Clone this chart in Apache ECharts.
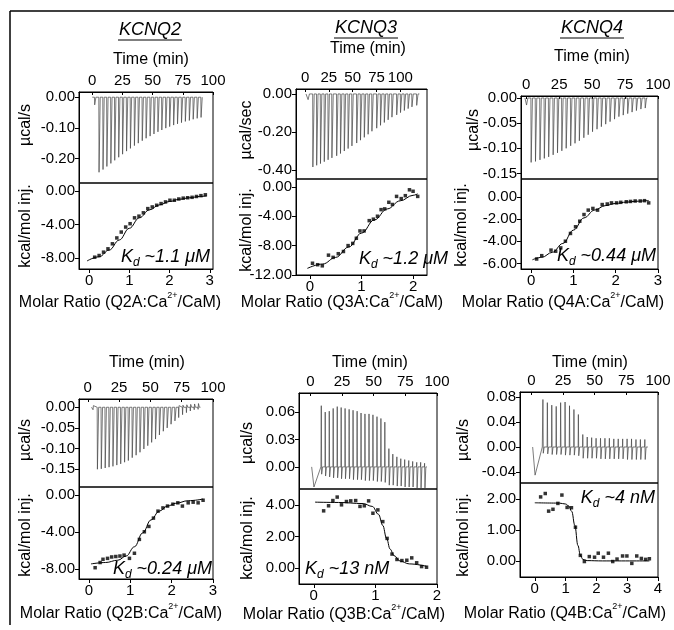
<!DOCTYPE html>
<html>
<head>
<meta charset="utf-8">
<title>ITC KCNQ / CaM</title>
<script src="https://cdn.jsdelivr.net/npm/echarts@6/dist/echarts.min.js"></script>
<style>
  html, body { margin: 0; padding: 0; background: #fff; }
  #itc { width: 674px; height: 630px; }
</style>
</head>
<body>
<div id="itc"></div>
<script>
// ---- tick labels ----
const timeTicks = [0, 25, 50, 75, 100]
const q2aPowerTicks = [0, -0.1, -0.2]
const q3aPowerTicks = [0, -0.2, -0.4]
const q4aPowerTicks = [0, -0.05, -0.1, -0.15]
const q2bPowerTicks = [0, -0.05, -0.1, -0.15]
const q3bPowerTicks = [0.06, 0.03, 0]
const q4bPowerTicks = [0.08, 0.04, 0, -0.04]
const q2aHeatTicks = [0, -4, -8]
const q3aHeatTicks = [0, -4, -8, -12]
const q4aHeatTicks = [0, -2, -4, -6]
const q2bHeatTicks = [0, -4, -8]
const q3bHeatTicks = [4, 2, 0]
const q4bHeatTicks = [2, 1, 0]
const ratioTicks3 = [0, 1, 2, 3]
const ratioTicks2 = [0, 1, 2]
const ratioTicks4 = [0, 1, 2, 3, 4]

// ---- raw thermograms: injection time (min), peak (ucal/s), rebound ----
const q2aInjTime = [1.8, 5.4, 8.7, 11.9, 15.2, 18.4, 21.7, 24.9, 28.2, 31.4, 34.7, 37.9, 41.2, 44.4, 47.7, 50.9, 54.2, 57.4, 60.7, 63.9, 67.2, 70.4, 73.7, 76.9, 80.2, 83.4, 86.7, 89.9]
const q2aInjPeak = [-0.025, -0.245, -0.236, -0.226, -0.216, -0.206, -0.196, -0.186, -0.176, -0.167, -0.158, -0.150, -0.142, -0.134, -0.127, -0.120, -0.113, -0.107, -0.101, -0.096, -0.091, -0.087, -0.083, -0.079, -0.076, -0.072, -0.069, -0.066]

const q3aInjTime = [3, 8, 12, 16, 20, 24, 28, 33, 37, 41, 45, 49, 54, 58, 62, 66, 70, 75, 79, 83, 87, 91, 96, 100, 104, 108, 112, 117]
const q3aInjPeak = [-0.030, -0.384, -0.375, -0.366, -0.356, -0.346, -0.336, -0.325, -0.313, -0.300, -0.287, -0.273, -0.258, -0.243, -0.228, -0.212, -0.196, -0.180, -0.165, -0.150, -0.136, -0.122, -0.110, -0.098, -0.087, -0.077, -0.068, -0.060]

const q4aInjTime = [0, 3.5, 6.8, 10.2, 13.5, 16.8, 20.2, 23.5, 26.8, 30.1, 33.5, 36.8, 40.1, 43.5, 46.8, 50.1, 53.5, 56.8, 60.1, 63.4, 66.8, 70.1, 73.4, 76.8, 80.1, 83.4, 86.8, 90.1]
const q4aInjPeak = [-0.014, -0.128, -0.126, -0.123, -0.120, -0.117, -0.113, -0.109, -0.105, -0.100, -0.095, -0.090, -0.085, -0.079, -0.073, -0.067, -0.062, -0.057, -0.052, -0.047, -0.042, -0.037, -0.034, -0.031, -0.028, -0.025, -0.022, -0.020]

const q2bInjTime = [4, 7.5, 10.6, 13.7, 16.8, 19.9, 23, 26.1, 29.2, 32.2, 35.3, 38.4, 41.5, 44.6, 47.7, 50.8, 53.9, 57, 60.1, 63.2, 66.3, 69.4, 72.4, 75.5, 78.6, 81.7, 84.8, 87.9]
const q2bInjPeak = [-0.006, -0.150, -0.149, -0.147, -0.145, -0.143, -0.140, -0.137, -0.133, -0.129, -0.122, -0.116, -0.109, -0.101, -0.093, -0.085, -0.077, -0.067, -0.058, -0.050, -0.041, -0.033, -0.025, -0.018, -0.013, -0.009, -0.006, -0.005]
const q2bRebound = [0.004, 0, 0, 0, 0, 0, 0, 0, 0, 0, 0, 0, 0, 0, 0, 0, 0, 0, 0, 0, 0, 0, 0.004, 0.005, 0.006, 0.007, 0.008, 0.009]

const q3bLeadTime = [1, 2.8, 8.3]
const q3bLeadValue = [0, -0.022, 0]
const q3bInjTime = [8.4, 11.5, 14.7, 17.8, 21.0, 24.1, 27.2, 30.4, 33.5, 36.7, 39.8, 42.9, 46.1, 49.2, 52.4, 55.5, 58.6, 61.8, 64.9, 68.1, 71.2, 74.3, 77.5, 80.6, 83.8, 86.9, 90.0]
const q3bInjPeak = [0.067, 0.060, 0.061, 0.064, 0.066, 0.065, 0.064, 0.063, 0.062, 0.061, 0.059, 0.058, 0.058, 0.057, 0.055, 0.053, 0.049, 0.020, 0.014, 0.011, 0.009, 0.008, 0.007, 0.006, 0.005, 0.005, 0.004]
const q3bRebound = [-0.008, -0.010, -0.011, -0.012, -0.012, -0.013, -0.013, -0.013, -0.014, -0.014, -0.014, -0.015, -0.015, -0.015, -0.016, -0.016, -0.017, -0.020, -0.020, -0.021, -0.021, -0.022, -0.022, -0.022, -0.023, -0.023, -0.023]

const q4bLeadTime = [1, 2.9, 8.6]
const q4bLeadValue = [0, -0.045, 0]
const q4bInjTime = [8.9, 12.4, 15.9, 19.4, 22.9, 26.4, 29.9, 33.4, 36.9, 40.4, 43.9, 47.4, 50.9, 54.4, 57.9, 61.4, 64.9, 68.4, 71.9, 75.4, 78.9, 82.4, 85.9, 89.4]
const q4bInjPeak = [0.076, 0.071, 0.067, 0.065, 0.071, 0.072, 0.066, 0.060, 0.052, 0.020, 0.016, 0.015, 0.014, 0.014, 0.014, 0.014, 0.013, 0.013, 0.013, 0.013, 0.013, 0.012, 0.012, 0.012]
const q4bRebound = [-0.010, -0.011, -0.012, -0.012, -0.012, -0.013, -0.013, -0.013, -0.014, -0.018, -0.018, -0.018, -0.018, -0.019, -0.019, -0.019, -0.019, -0.019, -0.019, -0.020, -0.020, -0.020, -0.020, -0.020]

// ---- integrated heats (kcal/mol injectant) vs molar ratio ----
const q2aRatio = [0.14, 0.25, 0.36, 0.47, 0.58, 0.69, 0.80, 0.91, 1.02, 1.13, 1.24, 1.35, 1.46, 1.57, 1.68, 1.79, 1.90, 2.01, 2.12, 2.23, 2.34, 2.45, 2.56, 2.67, 2.78, 2.89]
const q2aHeat = [-7.9, -7.7, -7.3, -6.9, -6.3, -5.6, -4.9, -4.3, -3.9, -3.2, -3.0, -2.6, -2.1, -1.9, -1.7, -1.5, -1.3, -1.1, -1.1, -0.95, -0.85, -0.8, -0.75, -0.65, -0.55, -0.45]
const q2aFitRatio = [-0.05, 0.25, 0.5, 0.75, 1.0, 1.25, 1.5, 1.75, 2.0, 2.25, 2.5, 2.75, 2.92]
const q2aFitHeat = [-8.35, -7.85, -7.05, -5.85, -4.45, -3.2, -2.25, -1.65, -1.25, -0.98, -0.8, -0.65, -0.57]

const q3aRatio = [0.05, 0.15, 0.24, 0.36, 0.45, 0.55, 0.65, 0.74, 0.83, 0.90, 0.97, 1.05, 1.15, 1.23, 1.31, 1.38, 1.45, 1.53, 1.60, 1.68, 1.77, 1.85, 1.93, 2.00, 2.09]
const q3aHeat = [-10.4, -10.6, -10.75, -9.3, -9.6, -9.1, -8.8, -8.0, -7.7, -7.0, -6.0, -6.0, -4.6, -4.4, -4.0, -3.1, -3.0, -2.1, -2.4, -1.3, -1.6, -1.2, -0.4, -0.6, -1.3]
const q3aFitRatio = [-0.05, 0.25, 0.5, 0.75, 1.0, 1.25, 1.5, 1.75, 2.0, 2.09]
const q3aFitHeat = [-11.1, -10.5, -9.6, -8.2, -6.3, -4.5, -3.0, -1.9, -1.15, -0.95]

const q4aRatio = [0.13, 0.25, 0.47, 0.58, 0.70, 0.81, 0.93, 1.05, 1.15, 1.25, 1.35, 1.46, 1.57, 1.68, 1.80, 1.90, 2.02, 2.12, 2.25, 2.35, 2.46, 2.58, 2.68, 2.78]
const q4aHeat = [-5.6, -5.3, -4.8, -4.9, -4.6, -4.0, -3.3, -2.7, -2.2, -1.6, -1.2, -1.05, -1.2, -0.7, -0.65, -0.55, -0.55, -0.5, -0.45, -0.42, -0.38, -0.38, -0.35, -0.55]
const q4aFitRatio = [0.03, 0.25, 0.5, 0.75, 1.0, 1.25, 1.5, 1.75, 2.0, 2.25, 2.5, 2.78]
const q4aFitHeat = [-5.67, -5.45, -5.0, -4.2, -3.0, -1.9, -1.2, -0.8, -0.6, -0.48, -0.4, -0.33]

const q2bRatio = [0.15, 0.27, 0.34, 0.45, 0.55, 0.65, 0.75, 0.85, 0.98, 1.10, 1.22, 1.34, 1.45, 1.56, 1.67, 1.79, 1.90, 2.03, 2.15, 2.26, 2.40, 2.52, 2.64, 2.76]
const q2bHeat = [-7.86, -7.3, -6.95, -6.85, -6.7, -6.65, -6.6, -6.5, -6.85, -6.3, -4.8, -3.98, -3.4, -2.5, -1.75, -1.4, -1.2, -1.0, -0.85, -1.2, -0.85, -0.78, -0.85, -0.57]
const q2bFitRatio = [0.05, 0.4, 0.7, 0.9, 1.1, 1.3, 1.5, 1.7, 1.9, 2.1, 2.4, 2.76]
const q2bFitHeat = [-7.45, -7.3, -7.05, -6.6, -5.6, -4.1, -2.7, -1.75, -1.2, -0.9, -0.62, -0.45]

const q3bRatio = [0.16, 0.24, 0.31, 0.38, 0.45, 0.53, 0.60, 0.68, 0.75, 0.82, 0.89, 0.96, 1.04, 1.12, 1.19, 1.27, 1.35, 1.43, 1.51, 1.59, 1.67, 1.75, 1.83]
const q3bHeat = [3.62, 3.94, 4.27, 4.49, 4.0, 4.21, 4.25, 4.27, 3.9, 3.94, 4.25, 3.47, 3.68, 2.94, 1.88, 0.89, 0.55, 0.48, 0.5, 0.65, 0.34, 0.1, 0.06]
const q3bFitRatio = [0.02, 0.4, 0.8, 0.95, 1.05, 1.12, 1.18, 1.24, 1.3, 1.4, 1.55, 1.83]
const q3bFitHeat = [4.17, 4.15, 4.08, 3.9, 3.4, 2.7, 1.9, 1.2, 0.8, 0.45, 0.27, 0.12]

const q4bRatio = [0.19, 0.34, 0.45, 0.59, 0.75, 0.88, 1.05, 1.19, 1.32, 1.48, 1.61, 1.77, 1.94, 2.06, 2.23, 2.39, 2.53, 2.67, 2.85, 2.99, 3.15, 3.31, 3.46, 3.60, 3.72]
const q4bHeat = [2.07, 2.18, 1.61, 1.67, 1.86, 2.13, 1.73, 1.72, 1.09, 0.18, -0.02, 0.14, 0.12, 0.25, 0.12, 0.25, -0.02, 0.06, 0.16, 0.16, -0.08, 0.16, 0.08, 0.05, 0.07]
const q4bFitRatio = [0.0, 0.8, 1.0, 1.1, 1.2, 1.3, 1.4, 1.48, 1.56, 1.7, 2.2, 3.72]
const q4bFitHeat = [1.88, 1.87, 1.84, 1.78, 1.6, 1.15, 0.5, 0.18, 0.05, 0.01, 0.0, 0.0]

const FONT = "'Liberation Sans', Arial, sans-serif"

// 把每次注射画成一个尖峰（基线 -> 峰值 -> (回弹) -> 基线）
function spikeTrace(times, peaks, rebound, leadT, leadV, tStart, tEnd, w) {
  const pts = []
  if (leadT) leadT.forEach((t, i) => pts.push([t, leadV[i]]))
  else pts.push([tStart, 0])
  times.forEach((t, i) => {
    pts.push([t, 0])
    pts.push([t + 0.2, peaks[i]])
    if (rebound && rebound[i]) pts.push([t + 0.5, rebound[i]])
    pts.push([t + w, 0])
  })
  pts.push([tEnd, 0])
  return pts
}
const zip = (a, b) => a.map((v, i) => [v, b[i]])

// layout of the six panels (pixels) and axis ranges
const panels = [
  { left: 79, width: 134, top: 92, mid: 183, bottom: 269, time: [-11, 100], power: [-0.28, 0.017], powerTicks: q2aPowerTicks,
    ratio: [-0.25, 3.08], ratioTicks: ratioTicks3, heat: [-9.31, 0.96], heatTicks: q2aHeatTicks,
    trace: spikeTrace(q2aInjTime, q2aInjPeak, null, null, null, 0, 91, 1.2),
    pts: zip(q2aRatio, q2aHeat), fit: zip(q2aFitRatio, q2aFitHeat) },
  { left: 296, width: 131, top: 89, mid: 179, bottom: 275, time: [-9.5, 128], power: [-0.447, 0.026], powerTicks: q3aPowerTicks,
    ratio: [-0.27, 2.27], ratioTicks: ratioTicks2, heat: [-12, 1.07], heatTicks: q3aHeatTicks,
    trace: spikeTrace(q3aInjTime, q3aInjPeak, null, null, null, 1, 120, 1.6),
    pts: zip(q3aRatio, q3aHeat), fit: zip(q3aFitRatio, q3aFitHeat) },
  { left: 521, width: 137, top: 96, mid: 179, bottom: 269, time: [-4, 100], power: [-0.161, 0.004], powerTicks: q4aPowerTicks,
    ratio: [-0.24, 3.0], ratioTicks: ratioTicks3, heat: [-6.5, 1.6], heatTicks: q4aHeatTicks,
    trace: spikeTrace(q4aInjTime, q4aInjPeak, null, null, null, -1, 92, 1.2),
    pts: zip(q4aRatio, q4aHeat), fit: zip(q4aFitRatio, q4aFitHeat) },
  { left: 79, width: 134, top: 399, mid: 487, bottom: 579, time: [-7, 100], power: [-0.193, 0.02], powerTicks: q2bPowerTicks,
    ratio: [-0.24, 3.0], ratioTicks: ratioTicks3, heat: [-9.08, 0.86], heatTicks: q2bHeatTicks,
    trace: spikeTrace(q2bInjTime, q2bInjPeak, q2bRebound, null, null, 3, 90, 1.2),
    pts: zip(q2bRatio, q2bHeat), fit: zip(q2bFitRatio, q2bFitHeat) },
  { left: 299, width: 138, top: 393, mid: 489, bottom: 584, time: [-9, 100], power: [-0.0242, 0.0809], powerTicks: q3bPowerTicks,
    ratio: [-0.24, 2.0], ratioTicks: ratioTicks2, heat: [-1.0, 5.0], heatTicks: q3bHeatTicks,
    trace: spikeTrace(q3bInjTime, q3bInjPeak, q3bRebound, q3bLeadTime, q3bLeadValue, 1, 92, 1.2),
    pts: zip(q3bRatio, q3bHeat), fit: zip(q3bFitRatio, q3bFitHeat) },
  { left: 520, width: 138, top: 392, mid: 483, bottom: 577, time: [-9, 100], power: [-0.0576, 0.088], powerTicks: q4bPowerTicks,
    ratio: [-0.48, 4.0], ratioTicks: ratioTicks4, heat: [-0.52, 2.52], heatTicks: q4bHeatTicks,
    trace: spikeTrace(q4bInjTime, q4bInjPeak, q4bRebound, q4bLeadTime, q4bLeadValue, 1, 92, 1.2),
    pts: zip(q4bRatio, q4bHeat), fit: zip(q4bFitRatio, q4bFitHeat) }
]

function axis(gridIndex, range, ticks, position, fmt, tickInside) {
  return {
    type: 'value', gridIndex, min: range[0], max: range[1], position,
    axisLine: { show: true, onZero: false, lineStyle: { color: '#000', width: 1 } },
    axisTick: { show: true, inside: !!tickInside, length: tickInside ? 3 : 4, customValues: ticks, lineStyle: { color: '#000', width: 1 } },
    axisLabel: { show: true, customValues: ticks, formatter: fmt, color: '#000', fontSize: 15, fontFamily: FONT, margin: 4 },
    splitLine: { show: false }
  }
}
const fix2 = v => Number(v).toFixed(2)
const int0 = v => String(Math.round(v))

const grid = [], xAxis = [], yAxis = [], series = []
panels.forEach((p, i) => {
  const gTop = 2 * i, gBot = 2 * i + 1
  const box = { show: true, borderColor: '#000', borderWidth: 1, backgroundColor: 'transparent', outerBoundsMode: 'none', containLabel: false }
  grid.push(Object.assign({ left: p.left, width: p.width, top: p.top, height: p.mid - p.top }, box))
  grid.push(Object.assign({ left: p.left, width: p.width, top: p.mid, height: p.bottom - p.mid }, box))
  xAxis.push(axis(gTop, p.time, timeTicks, 'top', int0, true))
  xAxis.push(axis(gBot, p.ratio, p.ratioTicks, 'bottom', int0))
  yAxis.push(axis(gTop, p.power, p.powerTicks, 'left', fix2))
  yAxis.push(axis(gBot, p.heat, p.heatTicks, 'left', fix2))
  series.push({ type: 'line', xAxisIndex: gTop, yAxisIndex: gTop, data: p.trace, showSymbol: false, symbol: 'none',
    lineStyle: { color: '#444', width: 0.7 }, silent: true, animation: false })
  series.push({ type: 'line', xAxisIndex: gBot, yAxisIndex: gBot, data: p.fit, showSymbol: false, symbol: 'none',
    smooth: 0.4, smoothMonotone: 'x', lineStyle: { color: '#000', width: 1 }, silent: true, animation: false })
  series.push({ type: 'scatter', xAxisIndex: gBot, yAxisIndex: gBot, data: p.pts, symbol: 'rect', symbolSize: 3.5,
    itemStyle: { color: '#000' }, silent: true, animation: false })
})

// texts
function txt(x, y, text, size, extra) {
  return { type: 'text', x, y, silent: true, style: Object.assign({ text, fill: '#000', fontSize: size, fontFamily: FONT,
    align: 'center', verticalAlign: 'middle', textAlign: 'center', textVerticalAlign: 'middle' }, extra || {}) }
}
function vtxt(x, y, text) {
  const t = txt(x, y, text, 16)
  t.rotation = Math.PI / 2
  return t
}
const supRich = { m: { fontSize: 16, fontFamily: FONT, lineHeight: 20, verticalAlign: 'bottom' },
  s: { fontSize: 9, fontFamily: FONT, lineHeight: 20, verticalAlign: 'top' } }
function molar(x, y, tag) {
  return txt(x, y, '{m|Molar Ratio (' + tag + ':Ca}{s|2+}{m|/CaM)}', 16, { rich: supRich })
}
const kdRich = { k: { fontSize: 18, fontStyle: 'italic', fontFamily: FONT, lineHeight: 24, verticalAlign: 'middle' },
  d: { fontSize: 12, fontStyle: 'italic', fontFamily: FONT, lineHeight: 24, verticalAlign: 'bottom' } }
function kd(x, y, value, align) {
  return txt(x, y, '{k|K}{d|d}{k| ~' + value + '}', 18, { rich: kdRich, align, textAlign: align })
}
function title(x, y, text) {
  return [txt(x, y, text, 18, { fontStyle: 'italic' }),
    { type: 'line', silent: true, shape: { x1: x - 32, y1: y + 10, x2: x + 32, y2: y + 10 }, style: { stroke: '#000', lineWidth: 1.2 } }]
}

const graphic = [
  { type: 'line', silent: true, shape: { x1: 10, y1: 11, x2: 674, y2: 11 }, style: { stroke: '#000', lineWidth: 1.5 } },
  { type: 'line', silent: true, shape: { x1: 10, y1: 11, x2: 10, y2: 625 }, style: { stroke: '#000', lineWidth: 1.5 } },
  ...title(150, 30, 'KCNQ2'), ...title(366, 28, 'KCNQ3'), ...title(592, 28, 'KCNQ4'),
  txt(151, 60, 'Time (min)', 16), txt(368, 49, 'Time (min)', 16), txt(592, 57, 'Time (min)', 16),
  txt(147, 363, 'Time (min)', 16), txt(370, 363, 'Time (min)', 16), txt(590, 363, 'Time (min)', 16),
  vtxt(26, 125, 'µcal/s'), vtxt(26, 226, 'kcal/mol inj.'),
  vtxt(247, 130, 'µcal/sec'), vtxt(247, 230, 'kcal/mol inj.'),
  vtxt(474, 130, 'µcal/s'), vtxt(462, 225, 'kcal/mol inj.'),
  vtxt(26, 440, 'µcal/s'), vtxt(26, 535, 'kcal/mol inj.'),
  vtxt(248, 443, 'µcal/s'), vtxt(248, 538, 'kcal/mol inj.'),
  vtxt(464, 440, 'µcal/s'), vtxt(464, 535, 'kcal/mol inj.'),
  molar(120, 301, 'Q2A'), molar(342, 301, 'Q3A'), molar(563, 301, 'Q4A'),
  molar(121, 612, 'Q2B'), molar(344, 613, 'Q3B'), molar(565, 612, 'Q4B'),
  kd(210, 257, '1.1 μM', 'right'), kd(448, 259, '1.2 μM', 'right'), kd(656, 256, '0.44 μM', 'right'),
  kd(212, 569, '0.24 μM', 'right'), kd(305, 569, '13 nM', 'left'), kd(655, 498, '4 nM', 'right')
]

const chart = echarts.init(document.getElementById('itc'))
chart.setOption({
  backgroundColor: '#fff',
  animation: false,
  grid, xAxis, yAxis, series, graphic
})
</script>
</body>
</html>
